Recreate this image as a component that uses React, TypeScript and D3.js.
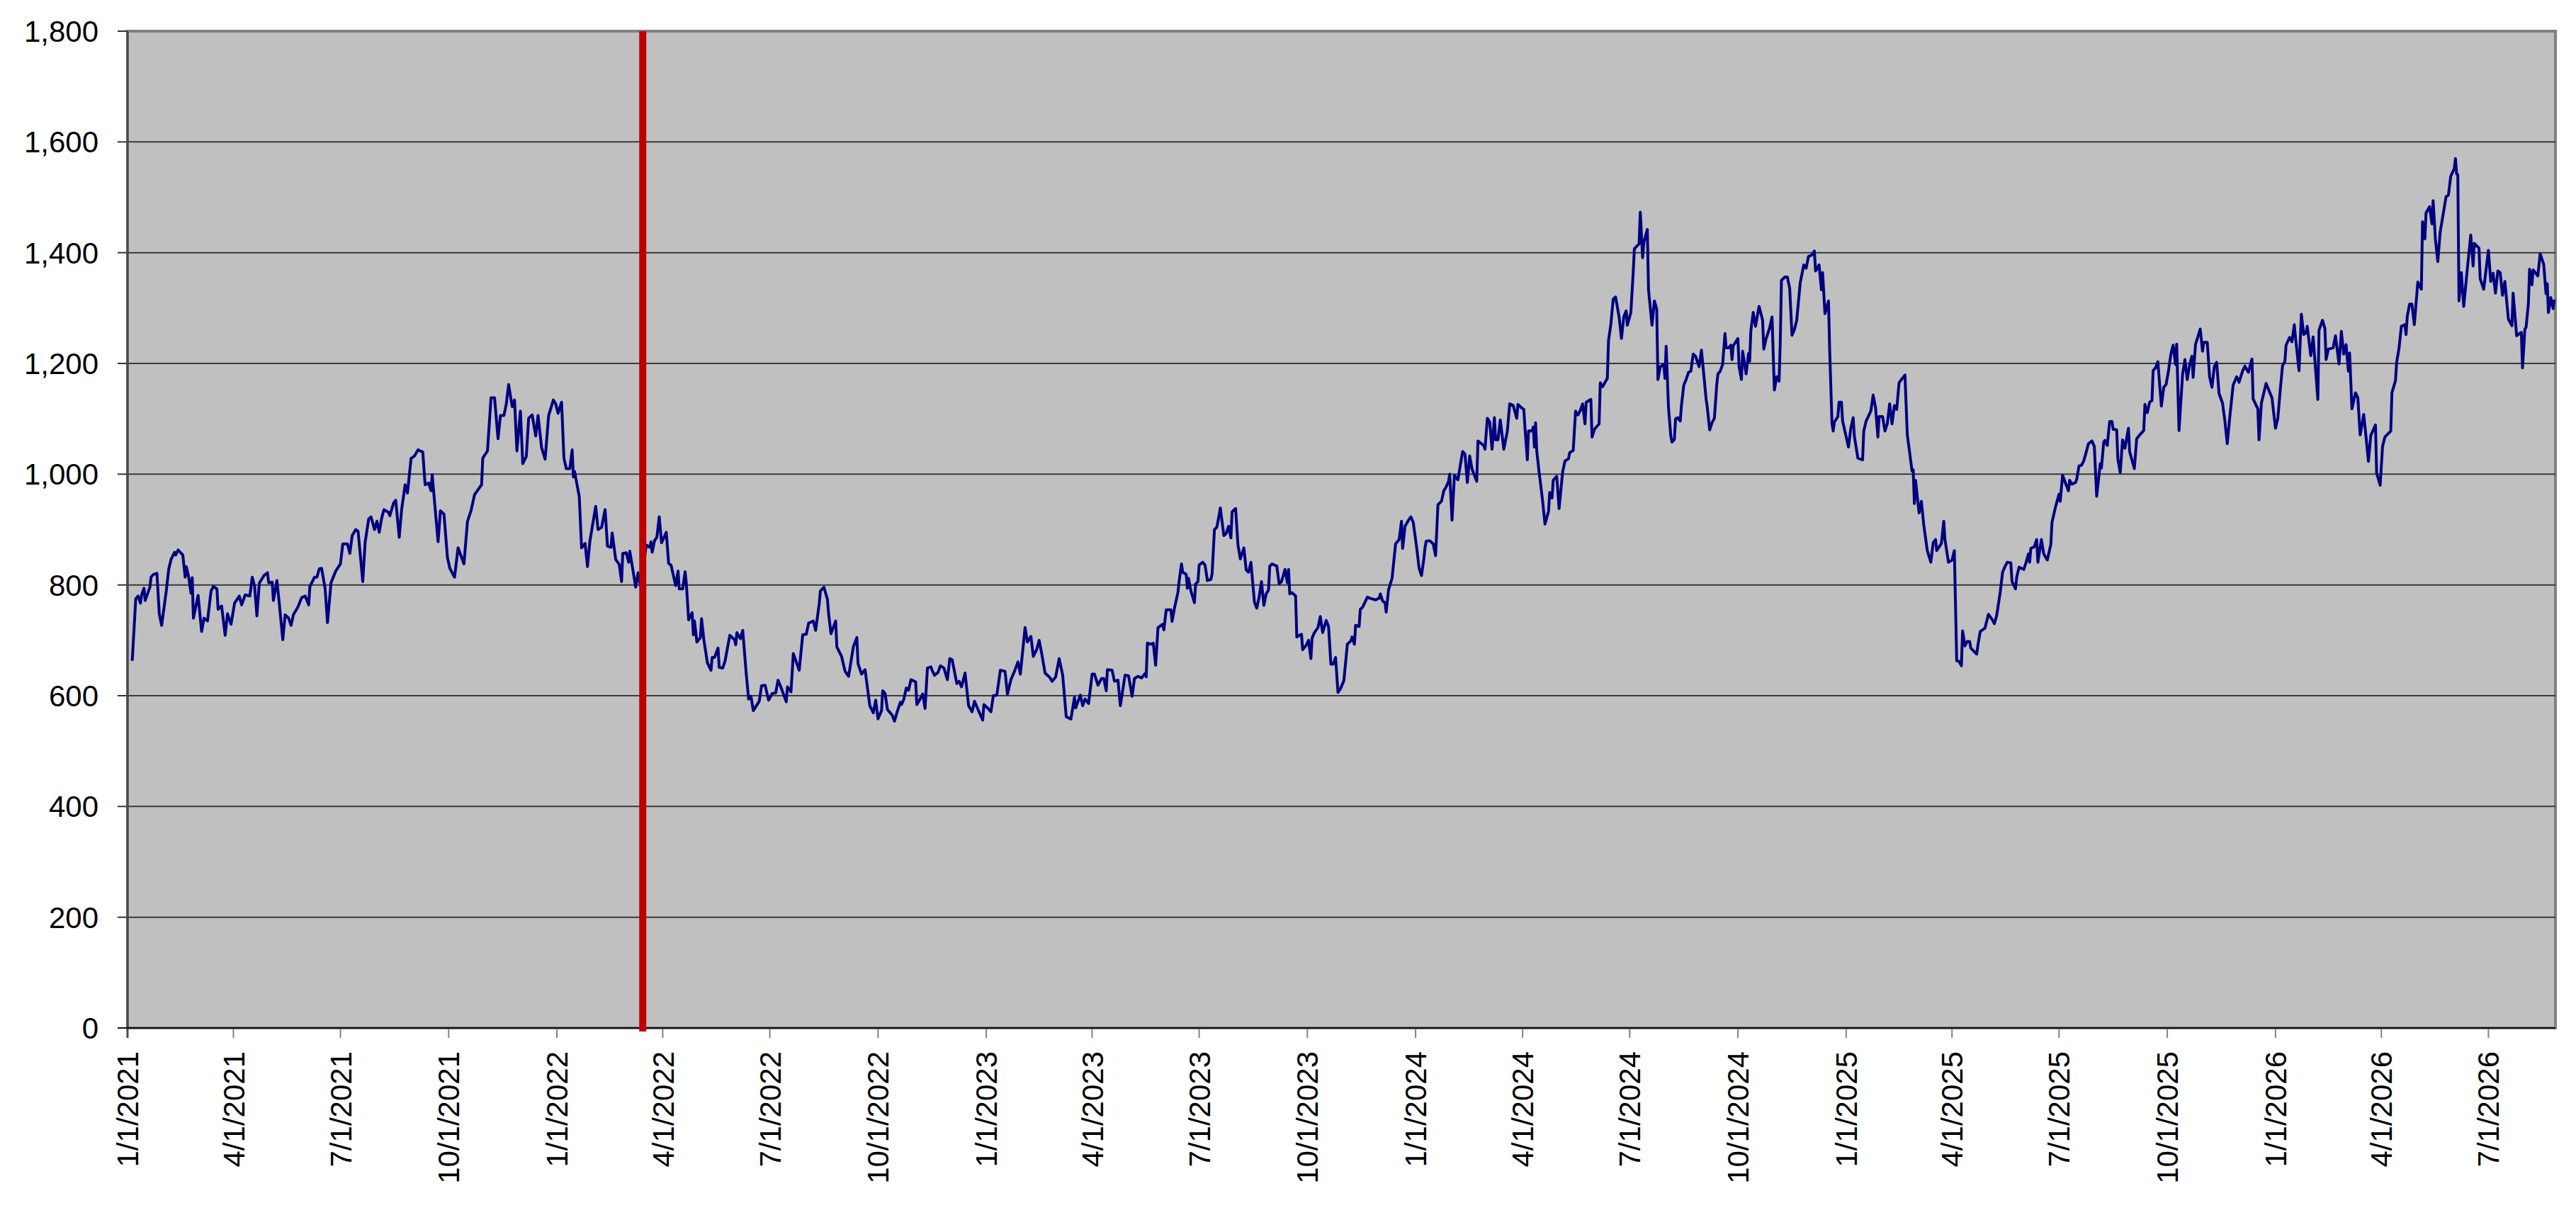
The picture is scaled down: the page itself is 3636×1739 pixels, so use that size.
import React, { useEffect, useRef } from 'react';
import * as d3 from 'd3';

// Series points: [days since 1/1/2021, value]
const start2021 = new Date(2021, 0, 1);
const endDate = new Date(2026, 7, 27);
const markerDate = new Date(2022, 2, 15);

const points2021: [number, number][] = [
  [4,663],[7,775],[9,780],[11,767],[12,782],[14,794],[15,772],[19,796],[20,814],[22,819],[25,821],[27,748],[29,727],[33,790],[35,828],[37,846],[40,859],[41,854],[43,863],[47,854],[49,814],[50,833],[52,814],[54,785],[55,813],[56,740],[60,781],[63,716],[65,740],[68,735],[71,789],[73,797],[76,793],[77,756],[80,762],[83,709],[85,748],[88,729],[91,767],[95,780],[97,764],[100,782],[104,780],[106,814],[108,798],[110,744],[112,803],[116,817],[119,822],[120,804],[123,805],[124,772],[127,808],[129,767],[132,701],[134,746],[137,740],[139,727],[141,746],[145,761],[148,777],[151,780],[154,764],[155,797],[159,814],[161,814],[163,829],[165,830],[168,793],[170,732],[173,804],[177,825],[181,838],[183,874],[187,874],[189,857],[191,889],[194,900],[196,897],[200,806],[202,877],[205,919],[207,923],[210,900],[212,915],[214,895],[216,920],[218,936],[222,931],[223,925],[226,947],[228,953],[231,886],[233,936],[236,981],[238,966],[241,1028],[244,1033],[247,1044],[251,1040],[253,981],[256,984],[258,970],[259,999],[264,878],[266,934],[269,928],[272,849],[274,830],[278,814],[281,867],[286,838],[289,915],[292,934],[295,963],[301,981],[302,1029],[306,1042],[309,1138],[312,1138],[315,1064],[317,1106],[320,1106],[322,1127],[324,1162],[327,1122],[329,1134],[331,1042],[334,1114],[336,1019],[339,1032],[341,1101],[344,1107],[347,1069],[349,1106],[352,1048],[355,1027],[358,1106],[362,1134],[364,1127]
];

const points2022: [number, number][] = [
  [366,1110],[369,1130],[371,1029],[373,1010],[376,1010],[378,1044],[379,995],[380,1005],[384,960],[386,867],[389,875],[391,833],[393,878],[398,942],[400,900],[403,904],[406,936],[408,870],[411,868],[412,894],[415,846],[418,837],[420,806],[421,857],[424,858],[426,841],[427,861],[432,796],[434,822],[436,798],
  [441,872],[444,868],[445,878],[446,859],[448,880],[450,886],[452,923],[454,876],[458,895],[460,839],[462,836],[466,799],[468,825],[469,793],[472,793],[474,824],[475,804],[477,737],[480,750],[481,710],[482,735],[484,697],[487,705],[488,739],[490,700],[493,659],[496,646],[497,669],[499,669],[502,686],[503,651],[506,650],[508,663],[512,709],[516,701],[517,692],[518,714],[521,703],[523,718],[526,639],[528,594],[530,599],[532,573],[537,590],[539,618],[542,619],[545,592],[548,604],[551,605],[553,628],[555,618],[560,589],[561,616],[564,607],[566,676],[569,658],[571,646],[574,710],[577,711],[579,731],[583,735],[585,718],[588,766],[589,789],[592,796],[595,774],[596,748],[598,712],[602,735],[603,688],[607,671],[610,644],[613,635],[617,688],[620,705],[621,658],[624,639],[627,647],[631,582],[634,569],[636,592],[638,558],[641,573],[642,609],[644,604],[646,575],[650,565],[652,554],[654,569],[657,588],[658,584],[660,594],[662,614],[664,610],[666,629],[670,625],[671,584],[674,595],[676,603],[678,577],[680,650],[683,652],[684,646],[686,637],[689,642],[691,654],[694,650],[697,629],[699,667],[701,665],[705,622],[707,626],[709,616],[712,641],[715,582],[718,571],[720,590],[723,575],[727,556],[728,584]
];

const points2023: [number, number][] = [
  [732,576],[734,571],[736,600],[739,601],[742,646],[746,644],[748,603],[751,629],[754,644],[757,661],[759,639],[763,723],[765,697],[768,707],[770,671],[773,684],[775,700],[777,678],[780,641],[784,633],[786,626],[789,634],[792,667],[795,637],[798,562],[802,558],[804,584],[805,597],[806,578],[810,601],[812,582],[814,594],[817,586],[820,639],[822,639],[825,619],[828,631],[830,631],[832,609],[833,647],[837,646],[839,626],[842,628],[844,582],[848,637],[851,636],[854,599],[856,631],[859,635],
  [862,632],[865,640],[866,634],[867,695],[870,693],[872,695],[874,655],[876,723],[880,729],[881,719],[883,755],[887,755],[888,734],[890,758],[893,787],[894,807],[896,838],[897,823],[900,819],[901,794],[902,812],[904,789],[907,768],[908,802],[910,806],[911,836],[914,841],[916,836],[918,808],[921,810],[922,820],[924,900],[926,904],[927,915],[929,939],[932,889],[934,893],[936,906],[938,885],[939,932],[942,938],[944,872],[946,847],[949,867],[951,827],[953,823],[955,841],[958,769],[960,758],[962,778],[964,806],[966,763],[968,784],[970,791],[971,834],[973,838],[977,834],[979,802],[981,806],[984,828],[986,804],[987,828],[988,784],[990,786],[993,780],[994,706],[996,709],[998,711],[999,683],[1002,691],[1004,700],[1006,667],[1007,704],[1009,714],[1012,723],[1014,743],[1016,714],[1019,736],[1021,725],[1023,657],[1025,657],[1027,669],[1029,606],[1031,612],[1034,627],[1037,693],[1040,699],[1041,706],[1043,693],[1044,727],[1047,725],[1048,756],[1050,760],[1054,778],[1056,776],[1061,773],[1064,776],[1065,784],[1067,771],[1069,768],[1070,751],[1072,791],[1075,812],[1076,833],[1078,874],[1081,882],[1082,898],[1083,915],[1084,866],[1086,906],[1089,917],[1091,923],[1093,913]
];

const points2024: [number, number][] = [
  [1096,866],[1098,830],[1100,817],[1102,847],[1103,867],[1104,879],[1107,880],[1110,874],[1112,853],[1114,945],[1117,951],[1119,970],[1121,977],[1123,987],[1124,1000],[1126,917],[1128,998],[1131,990],[1133,1016],[1135,1041],[1137,1036],[1139,985],[1141,1033],[1143,1009],[1147,987],[1148,1060],[1151,1055],[1153,1052],[1154,1045],[1156,1101],[1158,1094],[1160,1045],[1162,1102],[1163,1062],[1165,1062],[1167,1098],[1170,1045],[1173,1078],[1175,1127],[1178,1124],[1181,1101],[1182,1126],[1185,1120],[1187,1117],[1188,1083],[1190,1026],[1191,1078],[1194,1078],[1195,1085],[1196,1049],[1197,1093],[1198,1042],[1200,1003],[1201,987],[1203,951],[1205,910],[1208,933],[1209,967],[1211,957],[1212,989],[1215,996],[1217,938],[1220,1004],[1222,1024],[1225,1028],[1226,1039],[1229,1043],[1231,1114],[1233,1107],[1235,1115],[1237,1127],[1239,1091],[1240,1130],[1244,1135],[1245,1067],[1247,1081],[1251,1091],[1252,1165],[1254,1158],[1258,1173],[1259,1241],[1261,1271],[1263,1316],[1265,1320],[1268,1284],[1270,1245],
  [1272,1284],[1274,1295],[1275,1269],[1278,1292],[1280,1365],[1281,1407],[1285,1416],[1286,1473],[1288,1391],[1289,1418],[1292,1442],[1293,1333],[1296,1269],[1298,1313],[1300,1298],[1301,1171],[1303,1194],[1306,1198],[1307,1173],[1308,1231],[1310,1120],[1312,1068],[1313,1058],[1315,1063],[1316,1100],[1318,1102],[1320,1096],[1321,1124],[1323,1161],[1325,1171],[1327,1184],[1329,1186],[1331,1217],[1333,1213],[1336,1194],[1338,1224],[1342,1135],[1343,1120],[1345,1080],[1347,1093],[1349,1101],[1351,1161],[1352,1181],[1354,1186],[1356,1198],[1358,1254],[1359,1228],[1361,1228],[1363,1233],[1364,1207],[1365,1232],[1369,1245],[1370,1194],[1372,1171],[1373,1222],[1376,1181],[1378,1218],[1379,1204],[1380,1259],[1382,1292],[1384,1267],[1386,1292],[1387,1303],[1390,1278],[1391,1226],[1393,1245],[1396,1264],[1398,1284],[1400,1152],[1402,1176],[1404,1168],[1405,1238],[1406,1350],[1409,1356],[1411,1356],[1413,1336],[1415,1251],[1417,1261],[1419,1278],[1422,1346],[1425,1378],[1427,1372],[1429,1393],[1432,1396],[1434,1403],[1435,1367],[1438,1378],[1440,1333],[1441,1364],[1443,1290],[1446,1313],[1447,1225],[1449,1091],[1450,1078],[1451,1094],[1454,1104],[1455,1130],[1457,1130],[1458,1096]
];

const points2025: [number, number][] = [
  [1461,1068],[1463,1049],[1465,1083],[1467,1102],[1468,1068],[1471,1029],[1475,1026],[1476,1078],[1478,1096],[1482,1114],[1484,1143],[1486,1120],[1488,1067],[1489,1104],[1492,1104],[1494,1078],[1496,1091],[1498,1127],[1500,1091],[1502,1124],[1504,1117],[1506,1165],[1508,1171],[1511,1179],[1513,1071],[1515,1039],[1517,1006],[1518,1008],[1519,947],[1520,989],[1523,930],[1525,951],[1527,908],[1530,862],[1533,841],[1535,876],[1537,882],[1538,862],[1542,875],[1544,915],[1545,882],[1548,841],[1551,845],[1553,862],[1555,663],[1557,662],[1559,654],[1560,717],[1562,690],[1564,698],[1566,698],[1567,686],[1572,675],[1573,691],[1575,716],[1579,722],[1582,747],[1585,738],[1587,730],[1589,745],[1592,787],[1594,823],[1596,833],[1598,841],[1601,840],[1602,806],[1605,793],[1606,814],[1608,832],[1612,828],[1614,841],[1616,856],[1617,841],[1618,866],[1621,869],[1623,882],[1624,841],[1627,882],[1629,856],[1632,845],[1635,873],[1636,913],[1639,941],[1642,964],[1643,951],[1645,998],[1648,981],[1650,970],[1651,989],[1653,982],[1656,985],[1657,991],[1659,1015],[1661,1016],[1663,1024],[1665,1039],[1667,1055],[1670,1060],[1672,1050],[1674,960],[1677,1019],[1678,1011],[1680,1058],
  [1681,1061],[1683,1052],[1685,1095],[1687,1095],[1688,1081],[1691,1080],[1692,1027],[1694,1003],[1696,1062],[1698,1047],[1701,1083],[1702,1041],[1706,1010],[1708,1064],[1711,1072],[1714,1079],[1715,1126],[1717,1111],[1719,1130],[1721,1133],[1722,1187],[1724,1192],[1726,1203],[1729,1123],[1731,1157],[1733,1162],[1735,1186],[1737,1216],[1739,1233],[1741,1198],[1742,1235],[1744,1079],[1747,1180],[1749,1207],[1751,1171],[1753,1198],[1755,1213],[1756,1175],[1758,1234],[1762,1262],[1764,1222],[1765,1238],[1768,1238],[1770,1176],[1772,1157],[1774,1194],[1776,1202],[1778,1146],[1781,1128],[1783,1096],[1785,1055],[1787,1100],[1790,1161],[1793,1176],[1795,1166],[1798,1186],[1800,1195],[1803,1184],[1806,1208],[1807,1136],[1811,1118],[1812,1062],[1814,1128],[1818,1164],[1823,1138]
];

const points2026: [number, number][] = [
  [1826,1083],[1828,1101],[1830,1151],[1832,1196],[1834,1204],[1835,1233],[1838,1247],[1840,1239],[1842,1270],[1843,1247],[1846,1187],[1848,1289],[1850,1252],[1852,1256],[1853,1267],[1856,1214],[1858,1248],[1862,1135],[1863,1260],[1866,1278],[1868,1263],[1869,1207],[1871,1226],[1875,1228],[1877,1250],[1880,1199],[1882,1258],[1884,1217],[1886,1234],[1888,1186],[1889,1219],[1891,1118],[1894,1147],[1896,1138],[1898,1071],[1901,1108],[1903,1067],[1905,1023],[1907,1070],[1911,1089],[1912,1002],[1915,980],[1917,1050],[1919,1067],[1924,1078],[1925,1147],[1928,1169],[1929,1202],[1931,1227],[1933,1267],[1936,1270],[1937,1252],[1938,1285],[1940,1307],[1942,1307],[1944,1270],[1947,1347],[1950,1334],[1951,1456],[1953,1425],[1954,1472],[1957,1483],[1959,1452],[1960,1494],[1962,1423],[1964,1384],[1966,1437],[1971,1501],[1973,1504],[1975,1538],[1978,1552],[1979,1570],[1980,1542],[1981,1541],[1982,1313],[1984,1364],[1986,1303],[1989,1369],[1992,1432],[1994,1376],[1995,1417],[1999,1408],[2000,1353],[2003,1334],[2005,1369],[2007,1404],[2009,1348],[2011,1363],[2013,1327],[2015,1367],[2017,1364],[2019,1323],[2021,1348],[2024,1280],[2027,1268],[2028,1327],[2031,1250],[2034,1255],[2035,1256],[2036,1192],[2038,1262],[2039,1265],[2041,1308],[2042,1370],[2044,1342],[2045,1369],[2049,1358],[2051,1398],[2054,1379],[2056,1326],[2057,1344],[2058,1292],[2060,1319],[2062,1299],[2063,1315]
];

const yTicks = [0, 200, 400, 600, 800, 1000, 1200, 1400, 1600, 1800];

const ChartApp: React.FC = () => {
  const ref = useRef<SVGSVGElement | null>(null);

  useEffect(() => {
    if (!ref.current) return;

    const width = 3636;
    const height = 1739;
    const plot = { left: 180, top: 44, right: 3607, bottom: 1451 };
    const font = "'Liberation Sans', Arial, Helvetica, sans-serif";

    const svg = d3.select(ref.current);
    svg.selectAll("*").remove();
    svg.attr("width", width).attr("height", height);

    const data = [...points2021, ...points2022, ...points2023, ...points2024, ...points2025, ...points2026]
      .map(([d, v]) => ({ date: d3.timeDay.offset(start2021, d), value: v }));

    const x = d3.scaleTime().domain([start2021, endDate]).range([plot.left, plot.right]);
    const y = d3.scaleLinear().domain([0, 1800]).range([plot.bottom, plot.top]);

    svg.append("rect")
      .attr("width", width).attr("height", height).attr("fill", "#ffffff");

    // plot area
    svg.append("rect")
      .attr("x", plot.left).attr("y", plot.top)
      .attr("width", plot.right - plot.left).attr("height", plot.bottom - plot.top)
      .attr("fill", "#c0c0c0")
      .attr("stroke", "#808080")
      .attr("stroke-width", 4);

    // gridlines
    svg.append("g")
      .selectAll("line")
      .data(yTicks.filter(t => t > 0 && t < 1800))
      .enter()
      .append("line")
      .attr("x1", plot.left).attr("x2", plot.right)
      .attr("y1", d => y(d)).attr("y2", d => y(d))
      .attr("stroke", "#3a3a3a")
      .attr("stroke-width", 2);

    // y axis ticks + labels
    const yAxis = svg.append("g");
    yAxis.selectAll("line")
      .data(yTicks)
      .enter()
      .append("line")
      .attr("x1", plot.left - 14).attr("x2", plot.left)
      .attr("y1", d => y(d)).attr("y2", d => y(d))
      .attr("stroke", "#333")
      .attr("stroke-width", 2);
    yAxis.selectAll("text")
      .data(yTicks)
      .enter()
      .append("text")
      .attr("x", 139)
      .attr("y", d => y(d))
      .attr("dy", "0.36em")
      .attr("text-anchor", "end")
      .attr("font-family", font)
      .attr("font-size", 42)
      .attr("fill", "#000")
      .text(d => d3.format(",")(d));

    // x axis ticks + labels
    const xTicks = d3.timeMonth.every(3)!.range(start2021, endDate);
    const xAxis = svg.append("g");
    xAxis.selectAll("line")
      .data(xTicks)
      .enter()
      .append("line")
      .attr("x1", d => x(d)).attr("x2", d => x(d))
      .attr("y1", plot.bottom).attr("y2", plot.bottom + 14)
      .attr("stroke", "#808080")
      .attr("stroke-width", 2);
    xAxis.selectAll("text")
      .data(xTicks)
      .enter()
      .append("text")
      .attr("transform", d => `translate(${x(d)},${plot.bottom + 33}) rotate(-90)`)
      .attr("dy", "0.36em")
      .attr("text-anchor", "end")
      .attr("font-family", font)
      .attr("font-size", 42)
      .attr("fill", "#000")
      .text(d => d3.timeFormat("%-m/%-d/%Y")(d));

    // axis lines
    svg.append("line")
      .attr("x1", plot.left).attr("x2", plot.left)
      .attr("y1", plot.top).attr("y2", plot.bottom + 14)
      .attr("stroke", "#4a4a4a").attr("stroke-width", 3);
    svg.append("line")
      .attr("x1", plot.left - 14).attr("x2", plot.right)
      .attr("y1", plot.bottom).attr("y2", plot.bottom)
      .attr("stroke", "#111").attr("stroke-width", 2);

    // series
    const line = d3.line<{ date: Date; value: number }>()
      .x(d => x(d.date))
      .y(d => y(d.value));

    svg.append("path")
      .datum(data)
      .attr("d", line)
      .attr("fill", "none")
      .attr("stroke", "#000080")
      .attr("stroke-width", 4)
      .attr("stroke-linejoin", "round");

    // event marker
    svg.append("line")
      .attr("x1", x(markerDate)).attr("x2", x(markerDate))
      .attr("y1", plot.top).attr("y2", plot.bottom + 5)
      .attr("stroke", "#c00000")
      .attr("stroke-width", 10);
  }, []);

  return <svg ref={ref} style={{ position: 'absolute', left: 0, top: 0, display: 'block' }}></svg>;
};

export default ChartApp;
